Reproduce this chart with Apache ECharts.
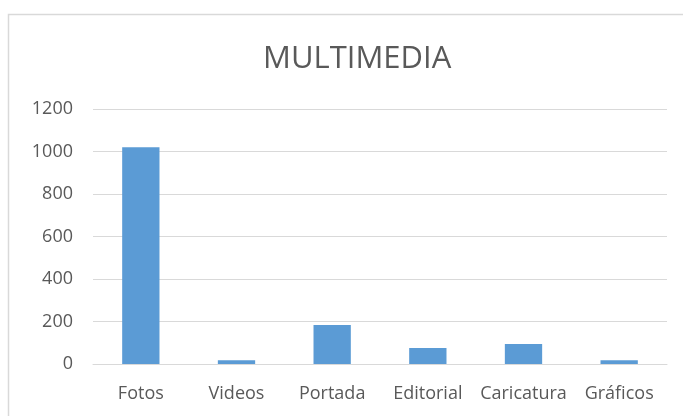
<!DOCTYPE html>
<html>
<head>
<meta charset="utf-8">
<script src="https://cdn.jsdelivr.net/npm/echarts@6/dist/echarts.min.js"></script>
<style>
  html, body { margin: 0; padding: 0; background: #fff; }
  #main { width: 683px; height: 416px; }
</style>
</head>
<body>
<div id="main"></div>
<script>
// datos
const categorias = ['Fotos', 'Videos', 'Portada', 'Editorial', 'Caricatura', 'Gráficos']
const valores = [1020, 18, 184, 75, 94, 18]
const ejeY = { min: 0, max: 1200, interval: 200 }

const chart = echarts.init(document.getElementById('main'))
const fuente = '"Open Sans", "Noto Sans", sans-serif'

const option = {
  animation: false,
  backgroundColor: '#fff',
  graphic: [
    {
      type: 'rect',
      shape: { x: 8.5, y: 14.5, width: 700, height: 440 },
      style: { fill: 'none', stroke: '#d9d9d9', lineWidth: 1.5 },
      silent: true
    }
  ],
  title: {
    text: 'MULTIMEDIA',
    left: 258,
    top: 39,
    textStyle: {
      fontFamily: fuente,
      fontSize: 31,
      fontWeight: 'normal',
      color: '#595959'
    }
  },
  grid: {
    left: 93,
    right: 16,
    top: 109,
    bottom: 52,
    containLabel: false
  },
  xAxis: {
    type: 'category',
    data: categorias,
    axisLine: { show: true, lineStyle: { color: '#d9d9d9', width: 1 } },
    axisTick: { show: false },
    axisLabel: {
      color: '#595959',
      fontFamily: fuente,
      fontSize: 18,
      margin: 21,
      interval: 0
    }
  },
  yAxis: {
    type: 'value',
    min: ejeY.min,
    max: ejeY.max,
    interval: ejeY.interval,
    axisLine: { show: false },
    axisTick: { show: false },
    splitLine: { lineStyle: { color: '#d9d9d9', width: 1 } },
    axisLabel: {
      color: '#595959',
      fontFamily: fuente,
      fontSize: 18,
      margin: 20,
      formatter: (v) => String(v)
    }
  },
  series: [
    {
      name: 'Multimedia',
      type: 'bar',
      data: valores,
      barCategoryGap: '61%',
      itemStyle: { color: '#5b9bd5' }
    }
  ]
}

chart.setOption(option)
</script>
</body>
</html>
